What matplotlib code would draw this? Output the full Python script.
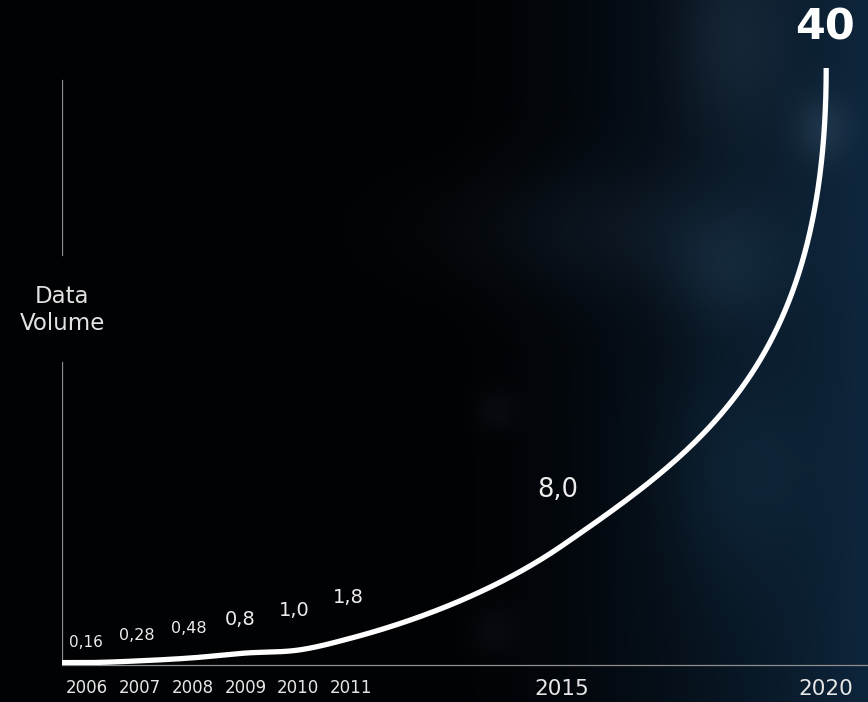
import numpy as np
import matplotlib
matplotlib.use("Agg")
import matplotlib.pyplot as plt

# data (values use a decimal comma in the labels)
years = [2006, 2007, 2008, 2009, 2010, 2011, 2015, 2020]
volume = [0.16, 0.28, 0.48, 0.8, 1.0, 1.8, 8.0, 40.0]
value_labels = ["0,16", "0,28", "0,48", "0,8", "1,0", "1,8", "8,0", "40"]
year_labels = ["2006", "2007", "2008", "2009", "2010", "2011", "2015", "2020"]

# per-label styling (size in pt, offset of label centre from the point in px)
value_sizes = [11, 11.5, 11.5, 14, 14, 14, 18.5, 31]
value_offsets = [(-1, 20), (-3, 25), (-4, 29), (-5, 34), (-4, 40), (-3, 41), (-4, 56), (-1, 41)]
year_sizes = [12, 12, 12, 12, 12, 12, 15.5, 15.5]
end_tension = 1.6  # how hard the curve swings up into its last point

W, H, DPI = 868, 702, 100
fig = plt.figure(figsize=(W / DPI, H / DPI), dpi=DPI, facecolor="black")

# blurred dark-blue photo backdrop
bg = fig.add_axes([0, 0, 1, 1])
bg.axis("off")
yy, xx = np.mgrid[0:H, 0:W].astype(float)
img = np.zeros((H, W, 3))
img[:] = (0.004, 0.008, 0.016)
ramp = np.clip((xx - 430) / (W - 430), 0, 1) ** 1.6
img += ramp[..., None] * np.array([0.05, 0.14, 0.22])


def blob(cx, cy, sx, sy, col):
    g = np.exp(-(((xx - cx) / sx) ** 2 + ((yy - cy) / sy) ** 2) / 2)
    return g[..., None] * np.array(col)


img += blob(822, 128, 20, 24, (0.07, 0.075, 0.08))
img += blob(730, 40, 40, 70, (0.05, 0.06, 0.07))
img += blob(610, 230, 120, 45, (0.03, 0.045, 0.06))
img += blob(725, 270, 40, 40, (0.035, 0.055, 0.07))
img += blob(730, 470, 50, 80, (0.02, 0.05, 0.07))
img += blob(495, 410, 14, 14, (0.025, 0.03, 0.035))
img += blob(493, 630, 18, 18, (0.02, 0.025, 0.03))
bg.imshow(np.clip(img, 0, 1), extent=[0, W, H, 0], aspect="auto")

# chart axes: origin at (62, 665) px, top at the figure edge
ax = fig.add_axes([62 / W, (H - 665) / H, 1 - 62 / W, 665 / H])
ax.patch.set_alpha(0)

px_year = 52.8
px_unit = (665 - 68) / 40.0
x0 = years[0] - 25 / px_year
ax.set_xlim(x0, years[0] + (W - 87) / px_year)
ax.set_ylim(0, 665 / px_unit)

# smooth curve through the points: cubic Hermite in screen space,
# flat where it leaves the y axis and upright where it ends
pts = ax.transData.transform(np.column_stack([[x0] + years, [volume[0]] + volume]))
seg = np.diff(pts, axis=0)
h = np.hypot(seg[:, 0], seg[:, 1])
u = seg / h[:, None]
tang = np.zeros_like(pts)
tang[0] = (1, 0)
tang[-1] = (0, end_tension)
for i in range(1, len(pts) - 1):
    tang[i] = (h[i] * u[i - 1] + h[i - 1] * u[i]) / (h[i - 1] + h[i])
t = np.linspace(0, 1, 120)[:, None]
h00, h10 = 2 * t**3 - 3 * t**2 + 1, t**3 - 2 * t**2 + t
h01, h11 = -2 * t**3 + 3 * t**2, t**3 - t**2
curve = np.vstack([
    h00 * pts[i] + h10 * h[i] * tang[i] + h01 * pts[i + 1] + h11 * h[i] * tang[i + 1]
    for i in range(len(seg))
])
cx, cy = ax.transData.inverted().transform(curve).T
ax.plot(cx, cy, color="white", lw=3.8, solid_capstyle="butt", zorder=3)

for yr, v, lab, fs, (dx, dy) in zip(years, volume, value_labels, value_sizes, value_offsets):
    bold = lab == "40"
    ax.annotate(lab, (yr, v), xytext=(dx / 1.389, dy / 1.389), textcoords="offset points",
                ha="center", va="center", fontsize=fs, color="white" if bold else "#ececec",
                fontweight="bold" if bold else "normal", zorder=4)

ax.set_xticks(years)
ax.set_xticklabels(year_labels)
for lbl, fs in zip(ax.get_xticklabels(), year_sizes):
    lbl.set_fontsize(fs)
ax.tick_params(axis="x", length=0, pad=10, colors="#e6e6e6")
ax.set_yticks([])

for side in ("top", "right", "left"):
    ax.spines[side].set_visible(False)
ax.spines["bottom"].set_color("#8f8f8f")
ax.spines["bottom"].set_linewidth(0.9)

# y axis drawn in two pieces around the label
ax.axvline(x0, ymin=0, ymax=(665 - 362) / 665, color="#8f8f8f", lw=0.9)
ax.axvline(x0, ymin=(665 - 255) / 665, ymax=(665 - 80) / 665, color="#8f8f8f", lw=0.9)
ax.text(x0, (665 - 310) / 665, "Data\nVolume", transform=ax.get_xaxis_transform(),
        ha="center", va="center", fontsize=16.5, color="#e2e2e2", linespacing=1.25)

fig.savefig("out.png", dpi=DPI, facecolor="black")
